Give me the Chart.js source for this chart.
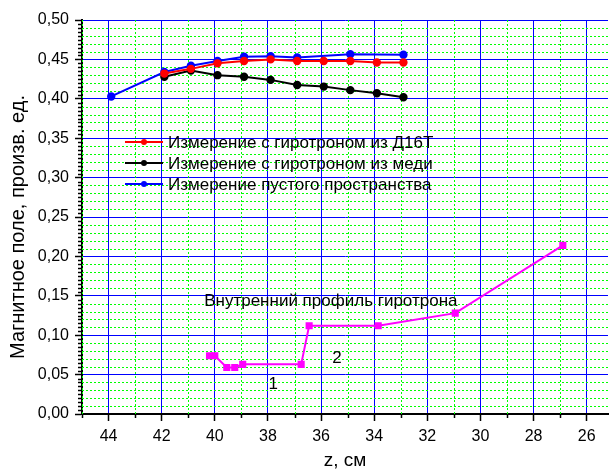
<!DOCTYPE html>
<html>
<head>
<meta charset="utf-8">
<script src="https://cdn.jsdelivr.net/npm/chart.js@4/dist/chart.umd.min.js"></script>
<style>
    html, body { margin: 0; padding: 0; background: #fff; }
    #wrap { width: 614px; height: 472px; }
</style>
</head>
<body>
<div id="wrap"><canvas id="profile-chart" width="614" height="472"></canvas></div>
<script>
// Positions along the axis, cm
const zD16T = [41.9, 40.9, 39.9, 38.9, 37.9, 36.9, 35.9, 34.9, 33.9, 32.9];
const zCopper = [41.9, 40.9, 39.9, 38.9, 37.9, 36.9, 35.9, 34.9, 33.9, 32.9];
const zEmpty = [43.9, 41.9, 40.9, 39.9, 38.9, 37.9, 36.9, 34.9, 32.9];
const zProfile = [40.2, 40.0, 39.55, 39.25, 38.95, 36.75, 36.45, 33.85, 30.95, 26.9];

// Magnetic field, arbitrary units
const fieldD16T = [0.432, 0.438, 0.445, 0.448, 0.450, 0.448, 0.448, 0.448, 0.446, 0.446];
const fieldCopper = [0.428, 0.436, 0.430, 0.428, 0.424, 0.4175, 0.4155, 0.411, 0.407, 0.402];
const fieldEmpty = [0.403, 0.434, 0.442, 0.448, 0.4535, 0.454, 0.4525, 0.4565, 0.456];
const profileRadius = [0.074, 0.074, 0.059, 0.059, 0.063, 0.063, 0.112, 0.112, 0.128, 0.214];

const seriesLabels = [
    'Измерение с гиротроном из Д16Т',
    'Измерение с гиротроном из меди',
    'Измерение пустого пространства'
];
const profileLabel = 'Внутренний профиль гиротрона';
const sectionLabels = ['1', '2'];
const sectionZ = [37.8, 35.4];
const sectionField = [0.038, 0.071];

const xTitle = 'z, см';
const yTitle = 'Магнитное поле, произв. ед.';

const FONT = '"Liberation Sans", Arial, sans-serif';

function toPoints(xs, ys) {
    return xs.map((x, i) => ({ x: x, y: ys[i] }));
}

// Minor grid, minor ticks, legend and text labels
const decorations = {
    id: 'decorations',
    beforeDatasetsDraw(chart) {
        const ctx = chart.ctx;
        const area = chart.chartArea;
        const xs = chart.scales.x;
        const ys = chart.scales.y;
        ctx.save();
        ctx.strokeStyle = '#00ff00';
        ctx.lineWidth = 1;
        ctx.setLineDash([2, 2]);
        for (let z = 27; z <= 45; z += 2) {
            const px = Math.round(xs.getPixelForValue(z)) + 0.5;
            if (px <= area.left || px >= area.right) continue;
            ctx.beginPath();
            ctx.moveTo(px, area.top);
            ctx.lineTo(px, area.bottom);
            ctx.stroke();
        }
        for (let k = 1; k < 50; k++) {
            if (k % 5 === 0) continue;
            const py = Math.round(ys.getPixelForValue(k / 100)) + 0.5;
            ctx.beginPath();
            ctx.moveTo(area.left, py);
            ctx.lineTo(area.right, py);
            ctx.stroke();
        }
        ctx.restore();
    },
    afterDraw(chart) {
        const ctx = chart.ctx;
        const area = chart.chartArea;
        const xs = chart.scales.x;
        const ys = chart.scales.y;
        ctx.save();

        // minor tick marks, every 0.005 on y and every odd cm on z
        ctx.strokeStyle = '#000';
        ctx.lineWidth = 1.5;
        for (let k = 1; k < 100; k++) {
            if (k % 10 === 0) continue;
            const py = Math.round(ys.getPixelForValue(k * 0.005)) + 0.5;
            ctx.beginPath();
            ctx.moveTo(area.left - 4, py);
            ctx.lineTo(area.left, py);
            ctx.stroke();
        }
        for (let z = 27; z <= 45; z += 2) {
            const px = Math.round(xs.getPixelForValue(z)) + 0.5;
            if (px <= area.left) continue;
            ctx.beginPath();
            ctx.moveTo(px, area.bottom);
            ctx.lineTo(px, area.bottom + 4);
            ctx.stroke();
        }

        // legend
        const lx = area.left + 43;
        const ly = area.top + 122;
        ctx.font = '17px ' + FONT;
        ctx.textBaseline = 'middle';
        ctx.textAlign = 'left';
        seriesLabels.forEach((label, i) => {
            const ds = chart.data.datasets[i];
            const y = ly + i * 21;
            ctx.strokeStyle = ds.borderColor;
            ctx.lineWidth = 2;
            ctx.beginPath();
            ctx.moveTo(lx, y);
            ctx.lineTo(lx + 38, y);
            ctx.stroke();
            ctx.fillStyle = ds.borderColor;
            ctx.beginPath();
            ctx.arc(lx + 19, y, 3, 0, Math.PI * 2);
            ctx.fill();
            ctx.fillStyle = '#000';
            ctx.fillText(label, lx + 43, y + 1);
        });

        // text labels
        ctx.fillStyle = '#000';
        ctx.textAlign = 'left';
        ctx.fillText(profileLabel, xs.getPixelForValue(40.4), ys.getPixelForValue(0.143));
        ctx.textAlign = 'center';
        sectionLabels.forEach((t, i) => {
            ctx.fillText(t, xs.getPixelForValue(sectionZ[i]), ys.getPixelForValue(sectionField[i]));
        });

        // y axis title, a little below the middle as in the original
        ctx.save();
        ctx.font = '20px ' + FONT;
        ctx.textAlign = 'center';
        ctx.translate(18, (area.top + area.bottom) / 2 + 10);
        ctx.rotate(-Math.PI / 2);
        ctx.fillText(yTitle, 0, 0);
        ctx.restore();

        ctx.restore();
    }
};

function initializeChart() {
    const ctx = document.getElementById('profile-chart').getContext('2d');
    new Chart(ctx, {
        type: 'line',
        data: {
            datasets: [{
                label: seriesLabels[0],
                data: toPoints(zD16T, fieldD16T),
                borderColor: '#ff0000',
                backgroundColor: '#ff0000',
                borderWidth: 2,
                pointRadius: 3.2
            }, {
                label: seriesLabels[1],
                data: toPoints(zCopper, fieldCopper),
                borderColor: '#000000',
                backgroundColor: '#000000',
                borderWidth: 2,
                pointRadius: 3.2
            }, {
                label: seriesLabels[2],
                data: toPoints(zEmpty, fieldEmpty),
                borderColor: '#0000ff',
                backgroundColor: '#0000ff',
                borderWidth: 2,
                pointRadius: 3.2
            }, {
                label: profileLabel,
                data: toPoints(zProfile, profileRadius),
                borderColor: '#ff00ff',
                backgroundColor: '#ff00ff',
                borderWidth: 2,
                pointStyle: 'rect',
                pointRadius: 3.6
            }]
        },
        options: {
            responsive: false,
            animation: false,
            layout: { padding: { top: 20, right: 0, left: 0, bottom: 0 } },
            plugins: {
                legend: { display: false },
                tooltip: { enabled: false }
            },
            elements: { line: { tension: 0 } },
            scales: {
                x: {
                    type: 'linear',
                    reverse: true,
                    min: 25.2,
                    max: 45,
                    afterFit: (scale) => { scale.height = 58; },
                    ticks: {
                        stepSize: 2,
                        includeBounds: false,
                        color: '#000',
                        padding: 6,
                        font: { family: FONT, size: 16 },
                        callback: (v) => v
                    },
                    grid: {
                        color: '#0000ff',
                        lineWidth: 1,
                        tickColor: '#000',
                        tickLength: 7,
                        tickWidth: 1.5
                    },
                    border: { color: '#000', width: 2 },
                    title: {
                        display: true,
                        text: xTitle,
                        color: '#000',
                        padding: { top: 0, bottom: 0 },
                        font: { family: FONT, size: 19 }
                    }
                },
                y: {
                    min: 0,
                    max: 0.5,
                    afterFit: (scale) => { scale.width = 82; },
                    ticks: {
                        stepSize: 0.05,
                        color: '#000',
                        padding: 6,
                        font: { family: FONT, size: 16 },
                        callback: (v) => v.toFixed(2).replace('.', ',')
                    },
                    grid: {
                        color: '#0000ff',
                        lineWidth: 1,
                        tickColor: '#000',
                        tickLength: 7,
                        tickWidth: 1.5
                    },
                    border: { color: '#000', width: 2 }
                }
            }
        },
        plugins: [decorations]
    });
}

window.onload = initializeChart;
</script>
</body>
</html>
